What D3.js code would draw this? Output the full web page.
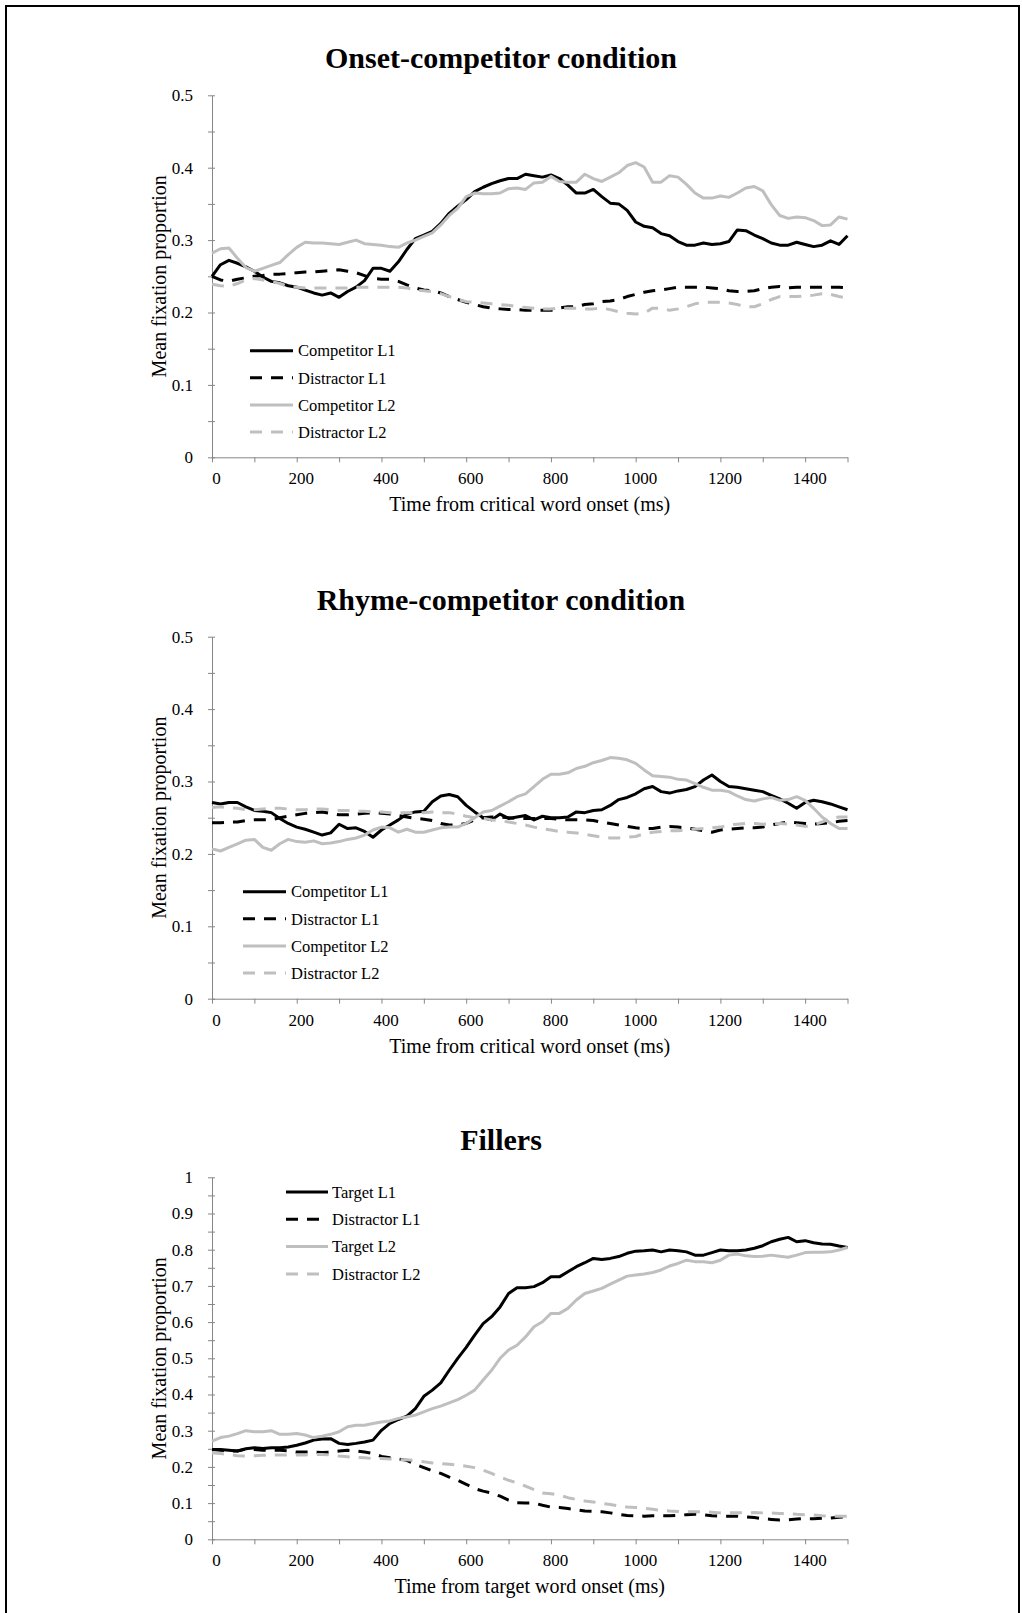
<!DOCTYPE html>
<html>
<head>
<meta charset="utf-8">
<script src="https://cdn.jsdelivr.net/npm/d3@7"></script>
<style>
  html, body { margin: 0; padding: 0; background: #fff; }
  svg { display: block; }
  text { font-family: "Liberation Serif", "Times New Roman", serif; fill: #000; }
</style>
</head>
<body>
<svg id="chart" width="1022" height="1613"></svg>
<script>
// Time bins (ms from word onset), 20 ms resolution
const timeMs = d3.range(0, 1501, 20);

// Onset-competitor condition
const onsetCompetitorL1 = [0.250,0.266,0.272,0.268,0.263,0.257,0.249,0.243,0.241,0.237,
  0.235,0.231,0.227,0.224,0.227,0.221,0.229,0.235,0.244,0.261,
  0.261,0.257,0.270,0.287,0.302,0.307,0.312,0.323,0.337,0.347,
  0.356,0.367,0.373,0.378,0.382,0.385,0.385,0.391,0.389,0.387,
  0.390,0.385,0.376,0.365,0.365,0.370,0.360,0.351,0.350,0.341,
  0.325,0.319,0.317,0.309,0.306,0.298,0.293,0.293,0.296,0.294,
  0.295,0.298,0.314,0.313,0.307,0.302,0.296,0.293,0.293,0.297,
  0.294,0.291,0.293,0.299,0.294,0.306];
const onsetDistractorL1 = [0.250,0.245,0.243,0.246,0.248,0.250,0.251,0.253,0.253,0.254,
  0.255,0.256,0.256,0.257,0.258,0.259,0.257,0.255,0.251,0.247,
  0.246,0.246,0.243,0.238,0.234,0.231,0.230,0.227,0.222,0.218,
  0.214,0.211,0.208,0.206,0.205,0.204,0.204,0.203,0.203,0.203,
  0.203,0.206,0.208,0.208,0.211,0.212,0.215,0.216,0.218,0.222,
  0.225,0.228,0.230,0.231,0.233,0.235,0.235,0.235,0.235,0.234,
  0.233,0.230,0.229,0.229,0.230,0.233,0.235,0.236,0.234,0.235,
  0.235,0.235,0.235,0.235,0.235,0.234];
const onsetCompetitorL2 = [0.282,0.288,0.289,0.275,0.262,0.257,0.261,0.265,0.269,0.280,
  0.290,0.297,0.296,0.296,0.295,0.294,0.297,0.300,0.295,0.294,
  0.293,0.291,0.290,0.296,0.300,0.305,0.310,0.321,0.334,0.344,
  0.360,0.365,0.364,0.364,0.365,0.371,0.372,0.370,0.379,0.380,
  0.388,0.381,0.380,0.380,0.391,0.385,0.381,0.387,0.393,0.403,
  0.407,0.401,0.380,0.380,0.389,0.387,0.377,0.365,0.358,0.358,
  0.361,0.359,0.365,0.372,0.374,0.368,0.349,0.334,0.330,0.332,
  0.331,0.327,0.320,0.321,0.332,0.329];
const onsetDistractorL2 = [0.239,0.237,0.236,0.240,0.245,0.247,0.245,0.243,0.240,0.236,
  0.235,0.234,0.234,0.234,0.234,0.234,0.234,0.235,0.235,0.235,
  0.235,0.235,0.235,0.234,0.231,0.230,0.229,0.226,0.222,0.218,
  0.215,0.214,0.213,0.212,0.211,0.210,0.208,0.207,0.206,0.205,
  0.205,0.206,0.206,0.206,0.205,0.205,0.206,0.204,0.201,0.199,
  0.198,0.199,0.206,0.206,0.203,0.205,0.208,0.212,0.214,0.214,
  0.214,0.213,0.211,0.208,0.208,0.212,0.218,0.222,0.222,0.222,
  0.223,0.224,0.226,0.225,0.222,0.220];

// Rhyme-competitor condition
const rhymeCompetitorL1 = [0.271,0.269,0.271,0.271,0.265,0.260,0.259,0.257,0.249,0.242,
  0.237,0.234,0.230,0.226,0.229,0.241,0.235,0.236,0.231,0.223,
  0.233,0.240,0.247,0.255,0.258,0.259,0.272,0.280,0.282,0.279,
  0.267,0.258,0.250,0.247,0.255,0.249,0.251,0.253,0.247,0.252,
  0.250,0.250,0.251,0.258,0.257,0.260,0.261,0.267,0.275,0.278,
  0.283,0.290,0.293,0.286,0.284,0.287,0.289,0.293,0.302,0.309,
  0.300,0.293,0.292,0.290,0.288,0.286,0.281,0.276,0.270,0.263,
  0.271,0.274,0.272,0.269,0.265,0.261];
const rhymeDistractorL1 = [0.243,0.243,0.244,0.244,0.246,0.247,0.247,0.247,0.250,0.252,
  0.254,0.256,0.257,0.258,0.256,0.254,0.254,0.255,0.256,0.257,
  0.256,0.255,0.253,0.251,0.249,0.248,0.246,0.242,0.240,0.240,
  0.242,0.247,0.250,0.251,0.251,0.250,0.249,0.249,0.249,0.249,
  0.249,0.248,0.247,0.247,0.247,0.246,0.244,0.242,0.240,0.238,
  0.236,0.235,0.235,0.237,0.238,0.237,0.236,0.234,0.232,0.230,
  0.233,0.234,0.235,0.236,0.236,0.237,0.240,0.242,0.244,0.243,
  0.242,0.241,0.242,0.243,0.245,0.246];
const rhymeCompetitorL2 = [0.207,0.204,0.209,0.214,0.219,0.220,0.209,0.205,0.214,0.220,
  0.217,0.216,0.218,0.214,0.215,0.217,0.220,0.222,0.226,0.233,
  0.237,0.236,0.230,0.234,0.230,0.230,0.233,0.236,0.237,0.237,
  0.242,0.250,0.258,0.260,0.266,0.272,0.279,0.283,0.293,0.303,
  0.310,0.310,0.312,0.318,0.321,0.326,0.329,0.333,0.332,0.330,
  0.325,0.316,0.308,0.307,0.306,0.303,0.302,0.297,0.292,0.288,
  0.288,0.286,0.280,0.275,0.273,0.276,0.278,0.274,0.275,0.279,
  0.274,0.263,0.251,0.242,0.235,0.235];
const rhymeDistractorL2 = [0.264,0.265,0.264,0.263,0.261,0.261,0.262,0.263,0.263,0.262,
  0.261,0.261,0.262,0.262,0.261,0.260,0.260,0.259,0.259,0.258,
  0.258,0.257,0.257,0.257,0.257,0.257,0.258,0.257,0.257,0.255,
  0.252,0.250,0.249,0.247,0.246,0.244,0.242,0.240,0.237,0.235,
  0.233,0.231,0.230,0.229,0.227,0.225,0.223,0.222,0.222,0.223,
  0.224,0.228,0.230,0.231,0.232,0.232,0.233,0.234,0.235,0.236,
  0.237,0.240,0.241,0.242,0.242,0.241,0.242,0.242,0.241,0.240,
  0.238,0.240,0.244,0.249,0.251,0.251];

// Fillers
const fillerTargetL1 = [0.248,0.248,0.246,0.244,0.250,0.253,0.251,0.253,0.253,0.255,
  0.260,0.266,0.274,0.277,0.278,0.265,0.262,0.265,0.269,0.274,
  0.301,0.320,0.331,0.340,0.361,0.395,0.412,0.432,0.467,0.500,
  0.530,0.564,0.596,0.615,0.642,0.679,0.695,0.695,0.698,0.709,
  0.725,0.725,0.739,0.753,0.764,0.776,0.773,0.776,0.781,0.790,
  0.796,0.797,0.799,0.794,0.799,0.797,0.794,0.785,0.785,0.792,
  0.799,0.797,0.797,0.799,0.804,0.811,0.822,0.829,0.834,0.822,
  0.825,0.819,0.816,0.815,0.810,0.806];
const fillerDistractorL1 = [0.248,0.246,0.244,0.244,0.249,0.248,0.246,0.246,0.246,0.244,
  0.241,0.241,0.241,0.240,0.241,0.244,0.246,0.244,0.241,0.237,
  0.229,0.225,0.222,0.218,0.207,0.198,0.189,0.182,0.172,0.163,
  0.152,0.140,0.133,0.128,0.119,0.108,0.101,0.100,0.100,0.094,
  0.089,0.088,0.085,0.082,0.078,0.077,0.076,0.073,0.069,0.066,
  0.065,0.064,0.065,0.065,0.065,0.066,0.068,0.069,0.068,0.065,
  0.064,0.064,0.064,0.062,0.060,0.057,0.055,0.053,0.054,0.056,
  0.057,0.057,0.058,0.059,0.061,0.062];
const fillerTargetL2 = [0.271,0.281,0.285,0.292,0.300,0.297,0.297,0.300,0.290,0.290,
  0.292,0.288,0.281,0.285,0.290,0.297,0.311,0.315,0.315,0.320,
  0.324,0.327,0.334,0.338,0.343,0.352,0.361,0.368,0.377,0.386,
  0.398,0.412,0.440,0.467,0.500,0.523,0.536,0.559,0.587,0.601,
  0.624,0.624,0.638,0.661,0.679,0.686,0.693,0.705,0.716,0.727,
  0.730,0.733,0.737,0.744,0.755,0.762,0.771,0.767,0.767,0.764,
  0.771,0.785,0.788,0.783,0.781,0.782,0.785,0.782,0.779,0.785,
  0.792,0.793,0.793,0.794,0.799,0.806];
const fillerDistractorL2 = [0.239,0.237,0.234,0.231,0.230,0.231,0.232,0.233,0.233,0.233,
  0.233,0.233,0.234,0.234,0.233,0.230,0.228,0.226,0.225,0.223,
  0.223,0.222,0.220,0.220,0.218,0.214,0.211,0.209,0.207,0.205,
  0.202,0.198,0.191,0.182,0.172,0.163,0.156,0.147,0.137,0.128,
  0.126,0.122,0.115,0.110,0.106,0.103,0.099,0.096,0.092,0.089,
  0.088,0.086,0.083,0.080,0.078,0.077,0.076,0.076,0.076,0.075,
  0.073,0.073,0.073,0.073,0.074,0.073,0.073,0.071,0.071,0.069,
  0.068,0.067,0.065,0.064,0.064,0.064];

// Axis ticks
const xTickValues = d3.range(0, 1501, 100);
const xLabelValues = [0, 200, 400, 600, 800, 1000, 1200, 1400];
const yStep = 0.05;

const panelTitles = ["Onset-competitor condition", "Rhyme-competitor condition", "Fillers"];
const xAxisTitles = ["Time from critical word onset (ms)", "Time from critical word onset (ms)", "Time from target word onset (ms)"];
const yAxisTitle = "Mean fixation proportion";
const yMaxima = [0.5, 0.5, 1];
const seriesNames = [
  ["Competitor L1", "Distractor L1", "Competitor L2", "Distractor L2"],
  ["Competitor L1", "Distractor L1", "Competitor L2", "Distractor L2"],
  ["Target L1", "Distractor L1", "Target L2", "Distractor L2"]
];
const seriesValues = [
  [onsetCompetitorL1, onsetDistractorL1, onsetCompetitorL2, onsetDistractorL2],
  [rhymeCompetitorL1, rhymeDistractorL1, rhymeCompetitorL2, rhymeDistractorL2],
  [fillerTargetL1, fillerDistractorL1, fillerTargetL2, fillerDistractorL2]
];

// ---- styling / layout ----
const BLACK = "#000000", GREY = "#bfbfbf", AXIS = "#868686";
const seriesStyle = [
  { color: BLACK, dash: null },
  { color: BLACK, dash: "12,9" },
  { color: GREY,  dash: null },
  { color: GREY,  dash: "12,9" }
];
const plotLeft = 212, plotRight = 847.5, plotHeight = 362;
const panelTops = [95.3, 636.7, 1177.3];
const legendLayout = [
  { x0: 250, x1: 293, tx: 298, y0: 255.4, step: 27.1 },
  { x0: 243, x1: 286, tx: 291, y0: 255.0, step: 27.1 },
  { x0: 286, x1: 328, tx: 332, y0: 14.7,  step: 27.3 }
];

const svg = d3.select("#chart");

// outer frame
svg.append("path")
  .attr("d", "M6,1620 V6 H1019 V1620")
  .attr("fill", "none")
  .attr("stroke", "#000")
  .attr("stroke-width", 2);

const x = d3.scaleLinear().domain([0, 1500]).range([plotLeft, plotRight]);

panelTitles.forEach((title, p) => {
  const top = panelTops[p];
  const bottom = top + plotHeight;
  const yMax = yMaxima[p];
  const y = d3.scaleLinear().domain([0, yMax]).range([bottom, top]);
  const g = svg.append("g");

  // title
  g.append("text")
    .attr("x", 501)
    .attr("y", top - 27)
    .attr("text-anchor", "middle")
    .style("font-size", "30px")
    .style("font-weight", "bold")
    .text(title);

  // y axis
  const yTicks = d3.range(0, Math.round(yMax / yStep) + 1).map(i => +(i * yStep).toFixed(2));
  const yFmt = v => {
    const k = Math.round(v * 100);
    if (k % 10 !== 0) return "";
    if (v === 0) return "0";
    if (v === 1) return "1";
    return v.toFixed(1);
  };
  const yAxisG = g.append("g")
    .attr("transform", `translate(${plotLeft},0)`)
    .call(d3.axisLeft(y).tickValues(yTicks).tickFormat(yFmt).tickSize(4).tickSizeOuter(0).tickPadding(15));
  yAxisG.select(".domain").attr("stroke", AXIS);
  yAxisG.selectAll(".tick line").attr("stroke", AXIS).attr("x1", 3);
  yAxisG.selectAll(".tick text")
    .style("font-family", "'Liberation Serif', serif")
    .style("font-size", "17px")
    .attr("fill", "#000");

  // x axis
  const xAxisG = g.append("g")
    .attr("transform", `translate(0,${bottom})`)
    .call(d3.axisBottom(x).tickValues(xTickValues)
      .tickFormat(d => xLabelValues.includes(d) ? String(d) : "")
      .tickSize(5).tickSizeOuter(0).tickPadding(10));
  xAxisG.select(".domain").attr("stroke", AXIS);
  xAxisG.selectAll(".tick line").attr("stroke", AXIS);
  xAxisG.selectAll(".tick text")
    .attr("dx", 4)
    .style("font-family", "'Liberation Serif', serif")
    .style("font-size", "17px")
    .attr("fill", "#000");

  // axis titles
  g.append("text")
    .attr("x", (plotLeft + plotRight) / 2)
    .attr("y", bottom + 54)
    .attr("text-anchor", "middle")
    .style("font-size", "20px")
    .text(xAxisTitles[p]);
  g.append("text")
    .attr("transform", `translate(166,${(top + bottom) / 2}) rotate(-90)`)
    .attr("text-anchor", "middle")
    .style("font-size", "20px")
    .text(yAxisTitle);

  // series lines
  const line = d3.line()
    .x((d, i) => x(timeMs[i]))
    .y(d => y(d));
  seriesValues[p].forEach((vals, s) => {
    const st = seriesStyle[s];
    g.append("path")
      .datum(vals)
      .attr("d", line)
      .attr("fill", "none")
      .attr("stroke", st.color)
      .attr("stroke-width", 3)
      .attr("stroke-linejoin", "round")
      .attr("stroke-dasharray", st.dash);
  });

  // legend
  const L = legendLayout[p];
  seriesNames[p].forEach((name, s) => {
    const st = seriesStyle[s];
    const ly = top + L.y0 + s * L.step;
    g.append("line")
      .attr("x1", L.x0).attr("x2", L.x1)
      .attr("y1", ly).attr("y2", ly)
      .attr("stroke", st.color)
      .attr("stroke-width", 3)
      .attr("stroke-dasharray", st.dash);
    g.append("text")
      .attr("x", L.tx)
      .attr("y", ly)
      .attr("dy", "0.35em")
      .style("font-size", "16.5px")
      .text(name);
  });
});
</script>
</body>
</html>
